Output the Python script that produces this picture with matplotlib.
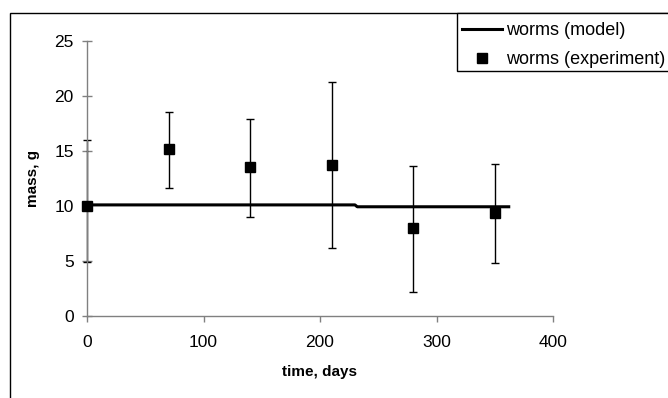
import numpy as np
import matplotlib.pyplot as plt
from matplotlib.patches import Rectangle

plt.rcParams['font.family'] = ['Liberation Sans', 'DejaVu Sans']

# experiment
t_exp = [0, 70, 140, 210, 280, 350]
m_exp = [10.0, 15.2, 13.55, 13.7, 8.0, 9.4]
err_lo = [5.1, 3.55, 4.55, 7.5, 5.85, 4.6]
err_hi = [6.0, 3.35, 4.4, 7.55, 5.65, 4.45]

# model
t_mod = [0, 230, 232, 362]
m_mod = [10.1, 10.1, 9.93, 9.93]

fig = plt.figure(figsize=(6.68, 3.98), dpi=100)
ax = fig.add_axes([87 / 668, 1 - 316 / 398, (553 - 87) / 668, (316 - 41) / 398])

ax.errorbar(t_exp, m_exp, yerr=[err_lo, err_hi], fmt='none', ecolor='black',
            elinewidth=1, capsize=3, capthick=1, clip_on=False, zorder=2)
ax.plot(t_mod, m_mod, color='black', lw=2.2, label='worms (model)', zorder=3)
ax.plot(t_exp, m_exp, ls='none', marker='s', ms=7.5, color='black',
        label='worms (experiment)', clip_on=False, zorder=4)

ax.set_xlim(0, 400)
ax.set_ylim(0, 25)
ax.set_xticks([0, 100, 200, 300, 400])
ax.set_yticks([0, 5, 10, 15, 20, 25])
for s in ['top', 'right']:
    ax.spines[s].set_visible(False)
for s in ['left', 'bottom']:
    ax.spines[s].set_color('#808080')
    ax.spines[s].set_linewidth(1)
ax.tick_params(axis='x', direction='out', length=4.3, width=1, color='#808080',
               pad=9.5, labelsize=12.5)
ax.tick_params(axis='y', direction='inout', length=7, width=1, color='#808080',
               pad=6, labelsize=12.5)

ax.set_xlabel('time, days', fontsize=11, fontweight='bold', labelpad=11)
ax.set_ylabel('mass, g', fontsize=11, fontweight='bold', labelpad=10)

# outer border
fig.patches.append(Rectangle((9.5 / 668, -0.1), 1.0, 1.1 - 13 / 398, fill=False,
                             edgecolor='black', lw=1, transform=fig.transFigure,
                             clip_on=False))

# legend box drawn by hand, entries placed inside
fig.patches.append(Rectangle((457 / 668, 1 - 71 / 398), 0.5, (71 - 13) / 398,
                             fill=True, facecolor='white', edgecolor='black',
                             lw=1, transform=fig.transFigure, clip_on=False,
                             zorder=5))
leg = fig.legend(loc='upper left', bbox_to_anchor=(457 / 668, 1 - 17 / 398),
                 fontsize=13, frameon=False, borderaxespad=0,
                 handlelength=2.2, handletextpad=0.2, labelspacing=0.65,
                 borderpad=0.3)
leg.set_zorder(6)

fig.savefig('out.png', dpi=100)
